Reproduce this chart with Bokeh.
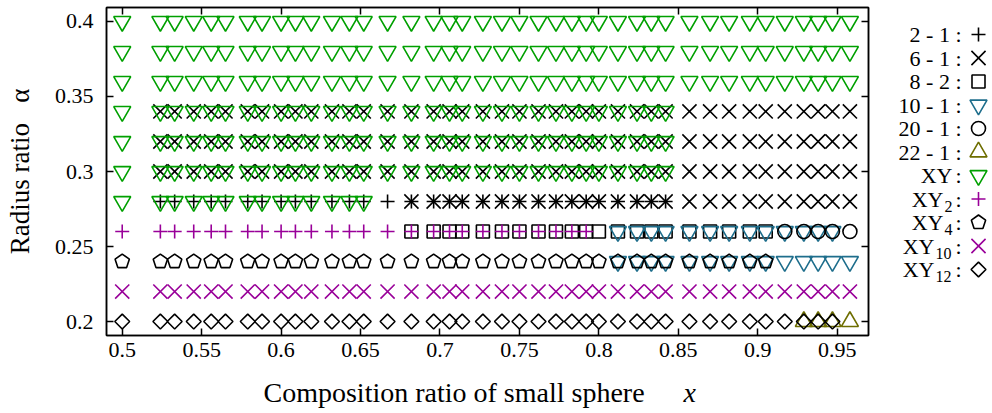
import numpy as np
from bokeh.plotting import figure
from bokeh.layouts import row, column
from bokeh.models import ColumnDataSource, FixedTicker, LinearAxis, Range1d
from bokeh.core.properties import value
from bokeh.embed import file_html
from bokeh.resources import INLINE

# ---------------- data ----------------
# composition ratios of the small sphere that appear in the map
COMPOSITION = [0.500, 0.524, 0.533, 0.545, 0.556, 0.565, 0.579, 0.588, 0.600, 0.609,
               0.619, 0.632, 0.643, 0.652, 0.667, 0.682, 0.696, 0.706, 0.714, 0.727,
               0.739, 0.750, 0.762, 0.773, 0.783, 0.792, 0.800, 0.812, 0.824, 0.833,
               0.842, 0.857, 0.870, 0.882, 0.895, 0.905, 0.917, 0.929, 0.938, 0.947,
               0.958]

X_TICKS = [0.5, 0.55, 0.6, 0.65, 0.7, 0.75, 0.8, 0.85, 0.9, 0.95]
X_TICK_LABELS = ["0.5", "0.55", "0.6", "0.65", "0.7", "0.75", "0.8", "0.85", "0.9", "0.95"]
Y_TICKS = [0.2, 0.25, 0.3, 0.35, 0.4]
Y_TICK_LABELS = ["0.2", "0.25", "0.3", "0.35", "0.4"]

# each row: (radius ratio alpha, first composition index, last composition index)
ROWS_2_1 = [(0.28, 1, 30)]
ROWS_6_1 = [(0.28, 15, 40), (0.30, 1, 40), (0.32, 1, 40), (0.34, 1, 40)]
ROWS_8_2 = [(0.26, 15, 35)]
ROWS_10_1 = [(0.24, 27, 40), (0.26, 27, 39)]
ROWS_20_1 = [(0.26, 36, 40)]
ROWS_22_1 = [(0.20, 37, 40)]
ROWS_XY = [(0.28, 0, 13), (0.30, 0, 30), (0.32, 0, 30), (0.34, 0, 30),
           (0.36, 0, 40), (0.38, 0, 40), (0.40, 0, 40)]
ROWS_XY2 = [(0.26, 0, 25)]
ROWS_XY4 = [(0.24, 0, 35)]
ROWS_XY10 = [(0.22, 0, 40)]
ROWS_XY12 = [(0.20, 0, 39)]

LEGEND_NAMES = ["2 - 1", "6 - 1", "8 - 2", "10 - 1", "20 - 1", "22 - 1",
                "XY", "XY", "XY", "XY", "XY"]
LEGEND_SUBS = ["", "", "", "", "", "", "", "2", "4", "10", "12"]

X_TITLE = "Composition ratio of small sphere"
X_TITLE_VAR = "x"
Y_TITLE = "Radius ratio\u00a0\u00a0\u00a0\u03b1"

# ---------------- styles ----------------
SERIES = [
    (ROWS_2_1, dict(marker="cross", size=14, color="black")),
    (ROWS_6_1, dict(marker="x", size=20, color="black")),
    (ROWS_8_2, dict(marker="square", size=13, color="black")),
    (ROWS_10_1, dict(marker="inverted_triangle", size=17, color="#1e6e8c")),
    (ROWS_20_1, dict(marker="circle", size=14, color="black")),
    (ROWS_22_1, dict(marker="triangle", size=17, color="#6e6e00")),
    (ROWS_XY, dict(marker="inverted_triangle", size=17, color="#00a000")),
    (ROWS_XY2, dict(marker="cross", size=14, color="#990099")),
    (ROWS_XY4, dict(marker="pentagon", size=7.5, color="black")),
    (ROWS_XY10, dict(marker="x", size=20, color="#990099")),
    (ROWS_XY12, dict(marker="square", size=10.5, color="black", angle=np.pi / 4)),
]

LW = 1.6
FONT = "Liberation Serif"

# page geometry (pixels)
W, H = 992, 413
FRAME_L, FRAME_T, FRAME_W, FRAME_H = 106, 7, 762, 328
MAIN_R = 4
MAIN_W = FRAME_L + FRAME_W + MAIN_R          # 872
MAIN_B = 42
MAIN_H = FRAME_T + FRAME_H + MAIN_B          # 377
XT_H = H - MAIN_H                            # 36
LEG_W = W - MAIN_W                           # 120


def expand(rows):
    xs, ys = [], []
    for alpha, i0, i1 in rows:
        for c in COMPOSITION[i0:i1 + 1]:
            xs.append(c)
            ys.append(alpha)
    return xs, ys


def draw(fig, xs, ys, st):
    src = ColumnDataSource(dict(x=xs, y=ys))
    if st["marker"] == "pentagon":
        # regular pentagon, one vertex pointing up
        fig.ngon(x="x", y="y", radius=st["size"], radius_units="screen", n=5,
                 angle=0.0, fill_color=None, line_color=st["color"],
                 line_width=LW, source=src)
    else:
        fig.scatter(x="x", y="y", marker=st["marker"], size=st["size"],
                    angle=st.get("angle", 0.0), fill_color=None,
                    line_color=st["color"], line_width=LW, source=src)


# ---------------- main plot ----------------
p = figure(frame_width=FRAME_W, frame_height=FRAME_H, title=None,
           x_range=Range1d(0.4901, 0.9697), y_range=Range1d(0.1907, 0.4093),
           toolbar_location=None, output_backend="svg",
           min_border_left=FRAME_L, min_border_right=MAIN_R,
           min_border_top=FRAME_T, min_border_bottom=MAIN_B)
p.grid.grid_line_color = None
p.outline_line_color = "black"
p.outline_line_width = 1.5
p.background_fill_color = "white"
p.border_fill_color = "white"

p.add_layout(LinearAxis(), "above")
p.add_layout(LinearAxis(), "right")


def style_axis(ax, ticks, labels):
    ax.ticker = FixedTicker(ticks=ticks)
    ax.major_tick_in = 7
    ax.major_tick_out = 0
    ax.minor_tick_in = 0
    ax.minor_tick_out = 0
    ax.minor_tick_line_color = None
    ax.axis_line_color = "black"
    ax.axis_line_width = 1.5
    ax.major_tick_line_color = "black"
    ax.major_tick_line_width = 1.5
    if labels is None:
        ax.major_label_overrides = {float(t): "" for t in ticks}
        ax.major_label_text_font_size = "0px"
        ax.major_label_text_color = None
        ax.major_label_standoff = 0
    else:
        ax.major_label_overrides = {float(t): l for t, l in zip(ticks, labels)}
        ax.major_label_text_font = FONT
        ax.major_label_text_font_size = "22px"
        ax.major_label_text_color = "black"


style_axis(p.below[0], X_TICKS, X_TICK_LABELS)
p.below[0].major_label_standoff = 7
style_axis(p.left[0], Y_TICKS, Y_TICK_LABELS)
p.left[0].major_label_standoff = 13
p.left[0].axis_label = Y_TITLE
p.left[0].axis_label_text_font = FONT
p.left[0].axis_label_text_font_size = "27px"
p.left[0].axis_label_text_font_style = "normal"
p.left[0].axis_label_text_color = "black"
p.left[0].axis_label_standoff = 17
style_axis(p.above[0], X_TICKS, None)
style_axis(p.right[0], Y_TICKS, None)

for rows, st in SERIES:
    xs, ys = expand(rows)
    draw(p, xs, ys, st)

# ---------------- x title strip ----------------
xt = figure(frame_width=FRAME_W, frame_height=XT_H, title=None,
            x_range=Range1d(FRAME_L, FRAME_L + FRAME_W), y_range=Range1d(0, XT_H),
            toolbar_location=None, output_backend="svg",
            x_axis_type=None, y_axis_type=None,
            min_border_left=FRAME_L, min_border_right=MAIN_R,
            min_border_top=0, min_border_bottom=0, outline_line_color=None)
xt.grid.grid_line_color = None
xt.background_fill_color = "white"
xt.border_fill_color = "white"
title_base = 21          # baseline of the title, measured up from the strip bottom
xt.text(x=[263], y=[title_base], text=[X_TITLE], text_font=value(FONT),
        text_font_size=value("28px"), text_align="left",
        text_baseline="alphabetic", text_color="black")
xt.text(x=[683], y=[title_base], text=[X_TITLE_VAR], text_font=value(FONT),
        text_font_style="italic", text_font_size=value("28px"), text_align="left",
        text_baseline="alphabetic", text_color="black")

# ---------------- legend panel ----------------
# data coordinates: x = page x - MAIN_W, y = H - page y
leg = figure(frame_width=LEG_W, frame_height=FRAME_H, title=None,
             x_range=Range1d(0, LEG_W), y_range=Range1d(H - FRAME_T - FRAME_H, H - FRAME_T),
             toolbar_location=None, output_backend="svg",
             x_axis_type=None, y_axis_type=None,
             min_border_left=0, min_border_right=0,
             min_border_top=FRAME_T, min_border_bottom=H - FRAME_T - FRAME_H,
             outline_line_color=None)
leg.grid.grid_line_color = None
leg.background_fill_color = "white"
leg.border_fill_color = "white"

marker_x = 106
colon_x = 89
first_row, row_step = 34, 23.5
for i, ((rows, st), name, sub) in enumerate(zip(SERIES, LEGEND_NAMES, LEGEND_SUBS)):
    yc = H - (first_row + row_step * i)
    draw(leg, [marker_x], [yc], st)
    if name == "XY":
        xy_right = 80 - 9 * len(sub)
        leg.text(x=[xy_right], y=[yc], text=[name], text_font=value(FONT),
                 text_font_size=value("22px"), text_align="right",
                 text_baseline="middle", text_color="black")
        if sub:
            leg.text(x=[xy_right + 1], y=[yc - 7], text=[sub], text_font=value(FONT),
                     text_font_size=value("16px"), text_align="left",
                     text_baseline="middle", text_color="black")
        leg.text(x=[colon_x], y=[yc], text=[":"], text_font=value(FONT),
                 text_font_size=value("22px"), text_align="right",
                 text_baseline="middle", text_color="black")
    else:
        leg.text(x=[colon_x], y=[yc], text=[name + " :"], text_font=value(FONT),
                 text_font_size=value("22px"), text_align="right",
                 text_baseline="middle", text_color="black")

layout = row(column(p, xt), leg)
open("out.html", "w").write(file_html(layout, INLINE))
